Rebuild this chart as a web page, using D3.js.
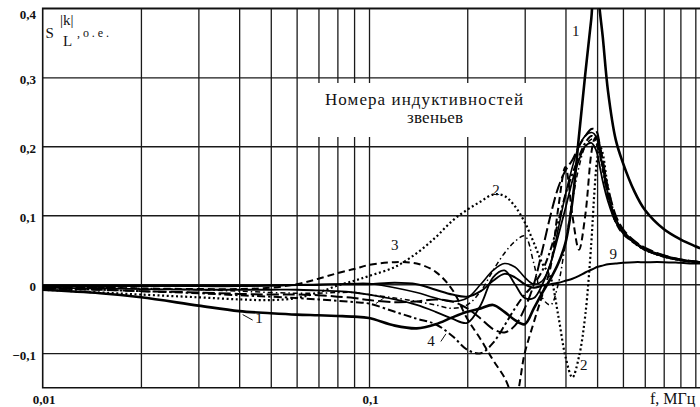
<!DOCTYPE html>
<html>
<head>
<meta charset="utf-8">
<script src="https://cdn.jsdelivr.net/npm/d3@7"></script>
<style>
  html, body { margin: 0; padding: 0; background: #fff; }
  svg { display: block; }
</style>
</head>
<body>
<svg id="chart" width="700" height="407"></svg>
<script>
// Frequency grid, MHz (shared by all curves)
const freq = [0.01, 0.015, 0.02, 0.03, 0.04, 0.05, 0.06, 0.07, 0.08, 0.09,
  0.1, 0.12, 0.14, 0.16, 0.18, 0.2, 0.22, 0.24, 0.26, 0.28,
  0.3, 0.32, 0.34, 0.36, 0.38, 0.4, 0.42, 0.44, 0.46, 0.48,
  0.49, 0.5, 0.51, 0.52, 0.54, 0.57, 0.6, 0.65, 0.7, 0.8,
  0.9, 1.0, 1.035];

// Sensitivity of |k| to link inductance, per unit, one array per link
const s1 = [-0.008, -0.013, -0.019, -0.031, -0.039, -0.042, -0.044, -0.045, -0.046, -0.047,
  -0.049, -0.060, -0.064, -0.058, -0.048, -0.040, -0.035, -0.030, -0.040, -0.052,
  -0.058, -0.035, -0.012, 0.008, 0.030, 0.060, 0.120, 0.215, 0.305, 0.385,
  0.430, 0.435, 0.395, 0.360, 0.280, 0.210, 0.176, 0.135, 0.108, 0.080,
  0.065, 0.055, 0.052];
const s2 = [-0.008, -0.012, -0.015, -0.019, -0.022, -0.023, -0.020, -0.012, -0.002, 0.005,
  0.012, 0.025, 0.045, 0.068, 0.092, 0.108, 0.120, 0.130, 0.128, 0.113,
  0.090, 0.060, 0.030, 0.010, -0.045, -0.105, -0.135, -0.105, -0.045, 0.060,
  0.130, 0.180, 0.200, 0.190, 0.140, 0.095, 0.075, 0.060, 0.050, 0.040,
  0.035, 0.032, 0.031];
const s3 = [-0.004, -0.005, -0.006, -0.007, -0.007, -0.005, 0.000, 0.008, 0.016, 0.022,
  0.028, 0.032, 0.030, 0.018, -0.008, -0.050, -0.080, -0.110, -0.135, -0.165,
  -0.100, -0.055, -0.015, 0.025, 0.110, 0.170, 0.100, 0.050, 0.100, 0.190,
  0.210, 0.215, 0.200, 0.180, 0.130, 0.090, 0.073, 0.060, 0.050, 0.040,
  0.035, 0.032, 0.031];
const s4 = [-0.006, -0.008, -0.010, -0.013, -0.016, -0.018, -0.020, -0.022, -0.024, -0.026,
  -0.028, -0.040, -0.050, -0.058, -0.075, -0.095, -0.100, -0.085, -0.060, -0.035,
  -0.015, 0.000, 0.020, 0.050, 0.090, 0.130, 0.160, 0.185, 0.205, 0.215,
  0.213, 0.205, 0.190, 0.170, 0.130, 0.093, 0.075, 0.061, 0.051, 0.041,
  0.035, 0.032, 0.031];
const s5 = [-0.005, -0.006, -0.007, -0.008, -0.008, -0.008, -0.008, -0.009, -0.010, -0.012,
  -0.015, -0.022, -0.030, -0.040, -0.050, -0.056, -0.030, 0.010, 0.020, 0.000,
  -0.020, -0.020, 0.000, 0.030, 0.070, 0.110, 0.150, 0.180, 0.200, 0.205,
  0.200, 0.190, 0.170, 0.150, 0.120, 0.090, 0.075, 0.060, 0.050, 0.040,
  0.035, 0.033, 0.032];
const s6 = [-0.003, -0.003, -0.003, -0.003, -0.003, -0.002, -0.001, 0.000, 0.000, 0.001,
  0.001, -0.005, -0.012, -0.020, -0.025, -0.020, 0.000, 0.020, 0.030, 0.025,
  0.010, 0.000, 0.005, 0.030, 0.080, 0.130, 0.170, 0.200, 0.215, 0.220,
  0.218, 0.210, 0.190, 0.170, 0.130, 0.095, 0.078, 0.062, 0.052, 0.042,
  0.036, 0.033, 0.032];
const s7 = [-0.006, -0.008, -0.010, -0.012, -0.014, -0.015, -0.015, -0.016, -0.018, -0.020,
  -0.023, -0.026, -0.025, -0.022, -0.025, -0.035, -0.050, -0.065, -0.070, -0.060,
  -0.035, 0.000, 0.050, 0.100, 0.140, 0.165, 0.180, 0.200, 0.215, 0.225,
  0.225, 0.220, 0.200, 0.180, 0.140, 0.100, 0.080, 0.063, 0.053, 0.042,
  0.036, 0.033, 0.032];
const s8 = [-0.004, -0.005, -0.006, -0.008, -0.010, -0.012, -0.013, -0.013, -0.012, -0.012,
  -0.015, -0.020, -0.025, -0.030, -0.035, -0.030, -0.010, 0.020, 0.045, 0.062,
  0.070, 0.030, -0.020, -0.030, 0.000, 0.060, 0.120, 0.170, 0.200, 0.210,
  0.210, 0.200, 0.185, 0.165, 0.125, 0.090, 0.074, 0.060, 0.050, 0.040,
  0.035, 0.032, 0.031];
const s9 = [-0.002, -0.002, -0.002, -0.002, -0.002, -0.002, -0.001, -0.001, 0.000, 0.000,
  0.000, 0.002, 0.000, -0.008, -0.015, -0.018, -0.010, 0.005, 0.015, 0.010,
  0.000, -0.005, -0.002, 0.000, 0.002, 0.005, 0.008, 0.012, 0.017, 0.021,
  0.023, 0.025, 0.026, 0.027, 0.029, 0.030, 0.031, 0.032, 0.032, 0.032,
  0.031, 0.030, 0.030];

const seriesValues = [s1, s2, s3, s4, s5, s6, s7, s8, s9];

// Axis ticks
const yTicks = [0.4, 0.3, 0.2, 0.1, 0, -0.1];
const yTickLabels = ["0,4", "0,3", "0,2", "0,1", "0", "\u22120,1"];
const xGrid = [0.02, 0.03, 0.04, 0.05, 0.06, 0.07, 0.08, 0.09, 0.1,
  0.2, 0.3, 0.4, 0.5, 0.6, 0.7, 0.8, 0.9, 1.0];
const xTicks = [0.01, 0.1];
const xTickLabels = ["0,01", "0,1"];

// Curve numbers and where they are written
const curveLabels = ["1", "1", "2", "2", "3", "4", "9"];
const curveLabelF = [0.046, 0.43, 0.245, 0.455, 0.12, 0.155, 0.56];
const curveLabelV = [-0.056, 0.36, 0.13, -0.125, 0.05, -0.09, 0.037];

// Line style per curve
const styles = [
  { w: 2.6, dash: null },
  { w: 2.2, dash: "2,2.6" },
  { w: 2.0, dash: "7,4" },
  { w: 2.0, dash: "8,3,2.5,3" },
  { w: 1.8, dash: null },
  { w: 1.6, dash: null },
  { w: 2.0, dash: "12,4" },
  { w: 1.5, dash: "5,3,1.5,3" },
  { w: 2.0, dash: null }
];

const FONT = "Liberation Serif";

const svg = d3.select("#chart");
const plotL = 42.7, plotR = 700.2, plotT = 8.3, plotB = 387.7;

const x = d3.scaleLog().domain([0.01, 1.035]).range([plotL, plotR]);
const y = d3.scaleLinear().domain([-0.15, 0.4]).range([plotB, plotT]);

// Vertical grid
const vgrid = svg.append("g")
  .attr("transform", `translate(0,${plotB})`)
  .call(d3.axisBottom(x).tickValues(xGrid).tickSize(-(plotB - plotT)).tickFormat(""));
vgrid.select(".domain").remove();
vgrid.selectAll("line").attr("stroke", "#1a1a1a").attr("stroke-width", 1.3);

// Horizontal grid
const hgrid = svg.append("g")
  .attr("transform", `translate(${plotL},0)`)
  .call(d3.axisLeft(y).tickValues(yTicks).tickSize(-(plotR - plotL)).tickFormat(""));
hgrid.select(".domain").remove();
hgrid.selectAll("line").attr("stroke", "#1a1a1a").attr("stroke-width", 1.3);

// Frame
svg.append("path")
  .attr("d", `M${plotR},${plotT}H${plotL}V${plotB}H${plotR}`)
  .attr("fill", "none").attr("stroke", "#111").attr("stroke-width", 1.6);

// White field behind the caption
svg.append("rect")
  .attr("x", 305).attr("y", 83).attr("width", 230).attr("height", 54)
  .attr("fill", "#fff");

const txt = (sel) => sel.append("text").attr("font-family", FONT).attr("fill", "#111");

txt(svg)
  .attr("x", 325).attr("y", 105)
  .attr("font-size", 17)
  .attr("textLength", 198).attr("lengthAdjust", "spacing")
  .text("Номера  индуктивностей");
txt(svg)
  .attr("x", 407).attr("y", 123)
  .attr("font-size", 17)
  .attr("textLength", 56).attr("lengthAdjust", "spacing")
  .text("звеньев");

// Curves
svg.append("clipPath").attr("id", "plotClip")
  .append("rect").attr("x", plotL).attr("y", plotT)
  .attr("width", plotR - plotL).attr("height", plotB - plotT);

const line = d3.line()
  .x(d => x(d[0]))
  .y(d => y(d[1]))
  .curve(d3.curveCatmullRom.alpha(0.5));

const curves = svg.append("g").attr("clip-path", "url(#plotClip)");
// draw the resonance-dominating curve last so it sits on top
[8, 7, 6, 5, 4, 3, 2, 1, 0].forEach(i => {
  const pts = freq.map((f, j) => [f, seriesValues[i][j]]);
  curves.append("path")
    .attr("d", line(pts))
    .attr("fill", "none")
    .attr("stroke", "#000")
    .attr("stroke-width", styles[i].w)
    .attr("stroke-dasharray", styles[i].dash)
    .attr("stroke-linejoin", "round");
});

// Curve numbers
svg.append("g").selectAll("text")
  .data(curveLabels)
  .join("text")
  .attr("font-family", FONT)
  .attr("fill", "#111")
  .attr("x", (d, i) => x(curveLabelF[i]))
  .attr("y", (d, i) => y(curveLabelV[i]))
  .attr("text-anchor", "middle")
  .attr("font-size", 15)
  .text(d => d);

// Short leader strokes for some numbers
const leaders = [
  [0.041, -0.044, 0.044, -0.052],
  [0.105, -0.028, 0.111, -0.020],
  [0.166, -0.083, 0.172, -0.072]
];
svg.append("g").selectAll("line")
  .data(leaders)
  .join("line")
  .attr("x1", d => x(d[0])).attr("y1", d => y(d[1]))
  .attr("x2", d => x(d[2])).attr("y2", d => y(d[3]))
  .attr("stroke", "#111").attr("stroke-width", 1);

// Y tick labels
svg.append("g").selectAll("text")
  .data(yTicks)
  .join("text")
  .attr("font-family", FONT)
  .attr("fill", "#111")
  .attr("x", 36)
  .attr("y", d => Math.max(y(d) + 6.6, 19))
  .attr("text-anchor", "end")
  .attr("font-size", 13)
  .attr("font-weight", "bold")
  .text((d, i) => yTickLabels[i]);

// X tick labels
svg.append("g").selectAll("text")
  .data(xTicks)
  .join("text")
  .attr("font-family", FONT)
  .attr("fill", "#111")
  .attr("x", d => x(d) + 1.5)
  .attr("y", 403.5)
  .attr("text-anchor", "middle")
  .attr("font-size", 13)
  .attr("font-weight", "bold")
  .text((d, i) => xTickLabels[i]);

txt(svg)
  .attr("x", 650).attr("y", 404)
  .attr("font-size", 16)
  .text("f, МГц");

// Axis title S_L^|k|, о.е.
txt(svg).attr("x", 45.5).attr("y", 38).attr("font-size", 15).text("S");
txt(svg).attr("x", 60).attr("y", 25).attr("font-size", 15).text("|k|");
txt(svg).attr("x", 63).attr("y", 45.5).attr("font-size", 15).text("L");
txt(svg).attr("x", 77).attr("y", 37).attr("font-size", 12)
  .attr("textLength", 32).attr("lengthAdjust", "spacing").text(",о.е.");
</script>
</body>
</html>
